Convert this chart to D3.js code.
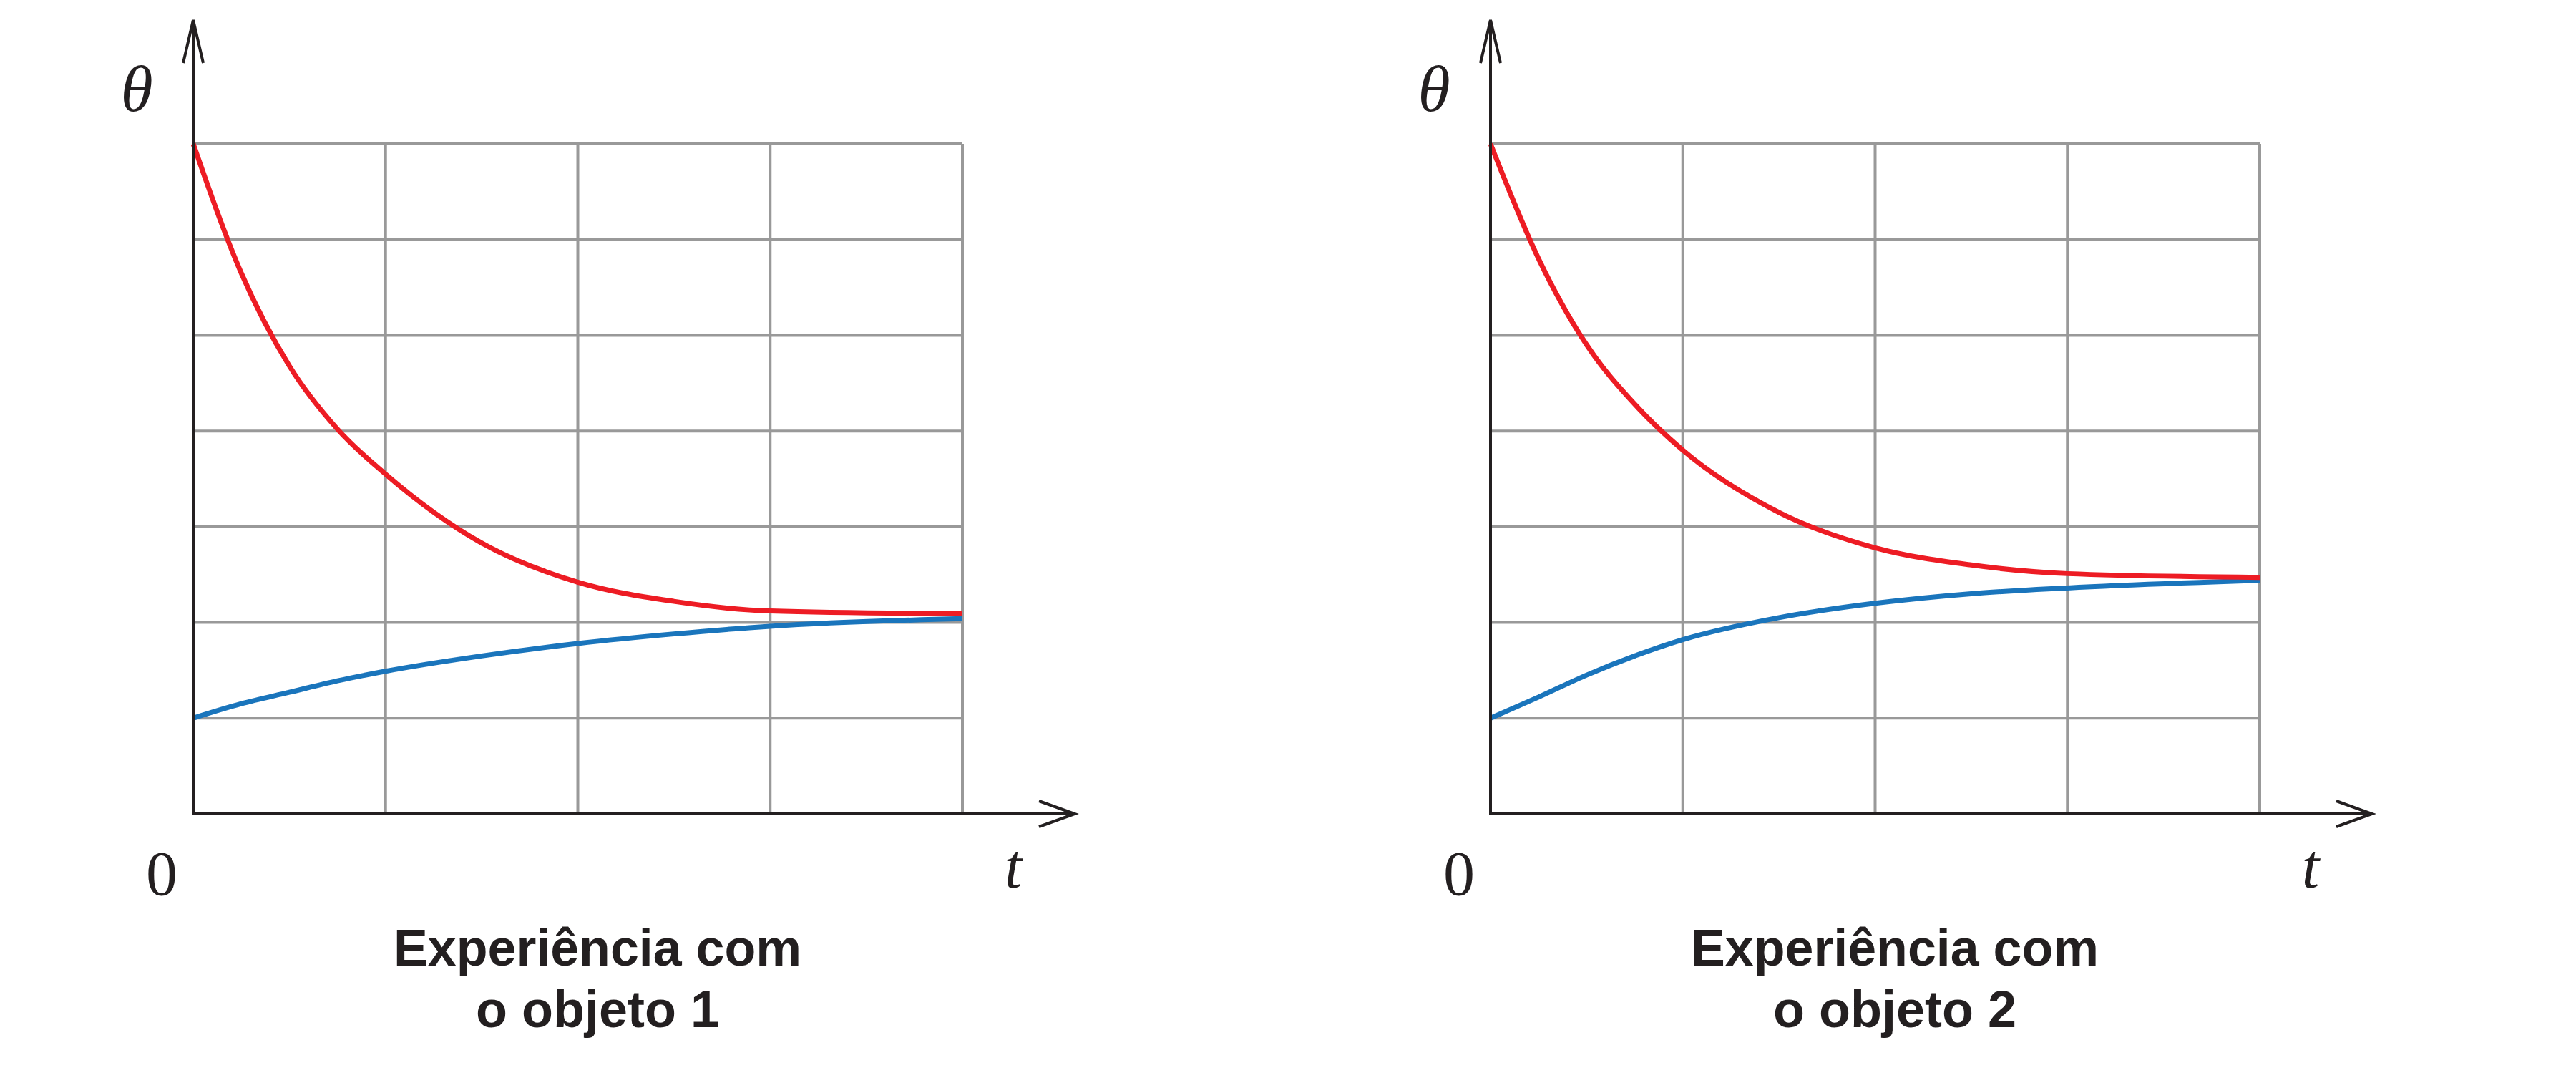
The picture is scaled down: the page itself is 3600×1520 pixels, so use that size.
<!DOCTYPE html>
<html><head><meta charset="utf-8">
<script src="https://cdn.jsdelivr.net/npm/d3@7"></script>
<style>body{margin:0;background:#fff}</style></head>
<body><svg id="c" width="3600" height="1520"></svg>
<script>
const tTicks=[0,1,2,3,4];
const yTicks=[0,1,2,3,4,5,6,7];
const tVals=[0,0.25,0.5,0.75,1,1.5,2,2.5,3,4];
const hot1=[7,5.65,4.68,4.02,3.55,2.83,2.42,2.22,2.12,2.09];
const cold1=[1,1.15,1.27,1.39,1.49,1.65,1.78,1.88,1.96,2.04];
const hot2=[7,5.8,4.9,4.28,3.8,3.15,2.78,2.6,2.51,2.47];
const cold2=[1,1.22,1.45,1.65,1.82,2.05,2.2,2.3,2.36,2.44];
const titles=[["Experiência com","o objeto 1"],["Experiência com","o objeto 2"]];
const panels=[{x0:270,hot:hot1,cold:cold1,title:titles[0]},{x0:2083,hot:hot2,cold:cold2,title:titles[1]}];
const svg=d3.select("#c");
panels.forEach(p=>{
  const x=d3.scaleLinear().domain([0,4]).range([p.x0,p.x0+1075]);
  const y=d3.scaleLinear().domain([0,7]).range([1137,201]);
  const g=svg.append("g");
  g.selectAll(".v").data(tTicks.slice(1)).join("line").attr("x1",d=>x(d)).attr("x2",d=>x(d)).attr("y1",y(0)).attr("y2",y(7)).attr("stroke","#999").attr("stroke-width",4);
  g.selectAll(".h").data(yTicks.slice(1)).join("line").attr("x1",x(0)).attr("x2",x(4)).attr("y1",d=>y(d)).attr("y2",d=>y(d)).attr("stroke","#999").attr("stroke-width",4);
  const line=d3.line().x((d,i)=>x(tVals[i])).y(d=>y(d)).curve(d3.curveMonotoneX);
  g.append("path").attr("d",line(p.cold)).attr("fill","none").attr("stroke","#1a75bc").attr("stroke-width",7);
  g.append("path").attr("d",line(p.hot)).attr("fill","none").attr("stroke","#ed1c24").attr("stroke-width",7);
  const ax="#231f20";
  g.append("line").attr("x1",x(0)).attr("x2",x(0)).attr("y1",y(0)+2).attr("y2",30).attr("stroke",ax).attr("stroke-width",4);
  g.append("line").attr("x1",x(0)-2).attr("x2",x(0)+1230).attr("y1",y(0)).attr("y2",y(0)).attr("stroke",ax).attr("stroke-width",4);
  g.append("path").attr("d",`M${x(0)-14},${88} L${x(0)},${28} L${x(0)+14},${88}`).attr("fill","none").attr("stroke",ax).attr("stroke-width",4);
  const ex=x(0)+1232;
  g.append("path").attr("d",`M${ex-50},${y(0)-18} L${ex},${y(0)} L${ex-50},${y(0)+18}`).attr("fill","none").attr("stroke",ax).attr("stroke-width",4);
  const serif="'Liberation Serif','DejaVu Serif',serif";
  g.append("text").attr("x",x(0)-79).attr("y",155).attr("font-family",serif).attr("font-style","italic").attr("font-size",92).attr("text-anchor","middle").attr("fill",ax).text("θ");
  g.append("text").attr("x",x(0)-44).attr("y",1250).attr("font-family",serif).attr("font-size",88).attr("text-anchor","middle").attr("fill",ax).text("0");
  g.append("text").attr("x",x(0)+1146).attr("y",1240).attr("font-family",serif).attr("font-style","italic").attr("font-size",88).attr("text-anchor","middle").attr("fill",ax).text("t");
  g.selectAll(".tt").data(p.title).join("text").attr("x",x(0)+565).attr("y",(d,i)=>1349+i*86).attr("text-anchor","middle").attr("font-family","'Liberation Sans',Arial,sans-serif").attr("font-weight","bold").attr("font-size",72).attr("textLength",(d,i)=>i?340:570).attr("lengthAdjust","spacingAndGlyphs").attr("fill","#231f20").text(d=>d);
});
</script></body></html>
